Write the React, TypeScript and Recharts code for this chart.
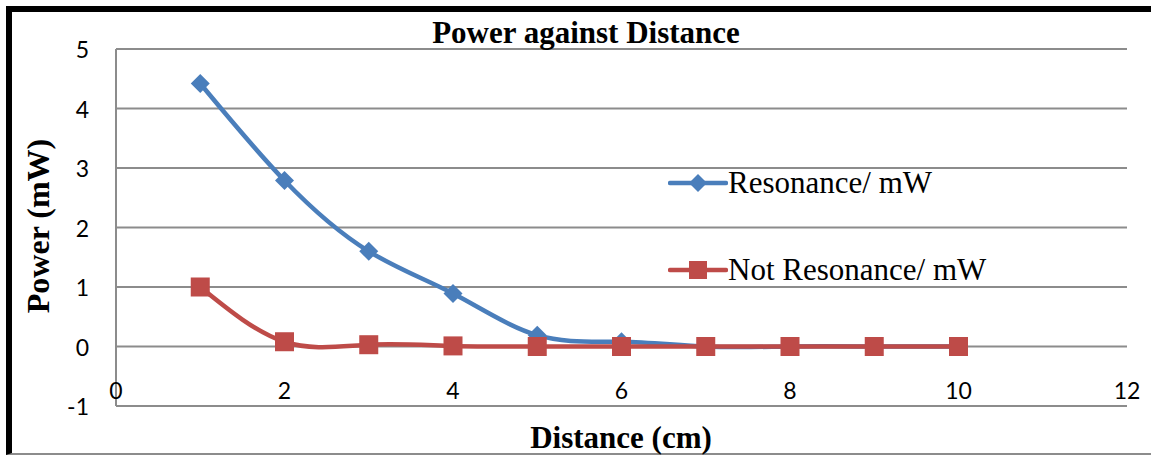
import React from "react";
import { LineChart, Line, XAxis, YAxis, CartesianGrid, Legend, Label } from "recharts";

const distance = [1, 2, 3, 4, 5, 6, 7, 8, 9, 10];
const resonance = [4.42, 2.79, 1.6, 0.89, 0.19, 0.08, 0, 0, 0, 0];
const notResonance = [1.0, 0.08, 0.03, 0.01, 0, 0, 0, 0, 0, 0];
const xTicks = [0, 2, 4, 6, 8, 10, 12];
const yTicks = [-1, 0, 1, 2, 3, 4, 5];
const seriesNames = ["Resonance/ mW", "Not Resonance/ mW"];

const data = distance.map((d, i) => ({ d, res: resonance[i], notRes: notResonance[i] }));

const BLUE = "#4a7ebb";
const RED = "#be4b48";
const GRID = "#8c8c8c";
const SERIF = "'Liberation Serif', 'Times New Roman', serif";
const SANS = "Lato, 'Open Sans', sans-serif";

const Diamond = (props: any) => {
  const { cx, cy } = props;
  if (cx == null || cy == null) return null;
  const r = 9.5;
  return <path d={`M${cx},${cy - r}L${cx + r},${cy}L${cx},${cy + r}L${cx - r},${cy}Z`} fill={BLUE} />;
};
const Square = (props: any) => {
  const { cx, cy } = props;
  if (cx == null || cy == null) return null;
  const s = 9.5;
  return <rect x={cx - s} y={cy - s} width={2 * s} height={2 * s} fill={RED} />;
};

const XTick = (props: any) => {
  const { x, y, payload } = props;
  return (
    <text x={x} y={y - 18} textAnchor="middle" dominantBaseline="central" fontFamily={SANS} fontSize={23} fill="#000">
      {payload.value}
    </text>
  );
};
const YTick = (props: any) => {
  const { x, y, payload } = props;
  return (
    <text x={x} y={y} textAnchor="end" dominantBaseline="central" fontFamily={SANS} fontSize={23} fill="#000">
      {payload.value}
    </text>
  );
};

const LegendContent = () => (
  <div style={{ fontFamily: SERIF, fontSize: 31, color: "#000" }}>
    {seriesNames.map((n, i) => (
      <div key={n} style={{ display: "flex", alignItems: "center", height: 36, marginBottom: i === 0 ? 51 : 0, whiteSpace: "nowrap" }}>
        <svg width={60} height={24} style={{ marginRight: 0 }}>
          <line x1={2} y1={12} x2={58} y2={12} stroke={i === 0 ? BLUE : RED} strokeWidth={4.5} strokeLinecap="round" />
          {i === 0 ? (
            <path d="M30,3L39,12L30,21L21,12Z" fill={BLUE} />
          ) : (
            <rect x={21} y={3} width={18} height={18} fill={RED} />
          )}
        </svg>
        <span>{n}</span>
      </div>
    ))}
  </div>
);

export default function App() {
  return (
    <div style={{ position: "absolute", left: 0, top: 0, width: 1151, height: 455, overflow: "hidden", background: "#fff" }}>
      <div style={{ position: "absolute", left: 6, top: 6, width: 1145, height: 449, borderLeft: "6px solid #000", borderTop: "6px solid #000", borderBottom: "2px solid #8c8c8c", boxSizing: "border-box" }} />
      <div style={{ position: "absolute", left: 0, top: 0 }}>
        <LineChart width={1151} height={455} data={data} margin={{ top: 49, right: 24, bottom: 19, left: 56 }}>
          <CartesianGrid vertical={false} stroke={GRID} strokeWidth={2} />
          <XAxis
            dataKey="d"
            type="number"
            domain={[0, 12]}
            ticks={xTicks}
            height={30}
            axisLine={false}
            tickLine={false}
            tickSize={0}
            tick={<XTick />}
            interval={0}
          >
            <Label
              content={() => (
                <text x={621} y={437} textAnchor="middle" dominantBaseline="central" fontFamily={SERIF} fontWeight="bold" fontSize={31} fill="#000">
                  Distance (cm)
                </text>
              )}
            />
          </XAxis>
          <YAxis
            type="number"
            domain={[-1, 5]}
            ticks={yTicks}
            width={60}
            axisLine={{ stroke: GRID, strokeWidth: 2 }}
            tickLine={false}
            tickSize={0}
            tickMargin={27}
            tick={<YTick />}
            interval={0}
          >
            <Label
              content={() => (
                <text x={38} y={226} transform="rotate(-90 38 226)" textAnchor="middle" dominantBaseline="central" fontFamily={SERIF} fontWeight="bold" fontSize={32} fill="#000">
                  Power (mW)
                </text>
              )}
            />
          </YAxis>
          <Legend
            layout="vertical"
            align="center"
            verticalAlign="middle"
            content={<LegendContent />}
            wrapperStyle={{ left: 668, top: 165, width: 420 }}
          />
          <Line
            name={seriesNames[0]}
            dataKey="res"
            type="natural"
            stroke={BLUE}
            strokeWidth={4.5}
            dot={<Diamond />}
            activeDot={false}
            isAnimationActive={false}
          />
          <Line
            name={seriesNames[1]}
            dataKey="notRes"
            type="natural"
            stroke={RED}
            strokeWidth={4.5}
            dot={<Square />}
            activeDot={false}
            isAnimationActive={false}
          />
        </LineChart>
      </div>
      <div style={{ position: "absolute", left: 0, width: 1151, paddingLeft: 21, boxSizing: "border-box", top: 15, textAlign: "center", fontFamily: SERIF, fontWeight: "bold", fontSize: 31, lineHeight: "36px", color: "#000" }}>
        Power against Distance
      </div>
    </div>
  );
}
